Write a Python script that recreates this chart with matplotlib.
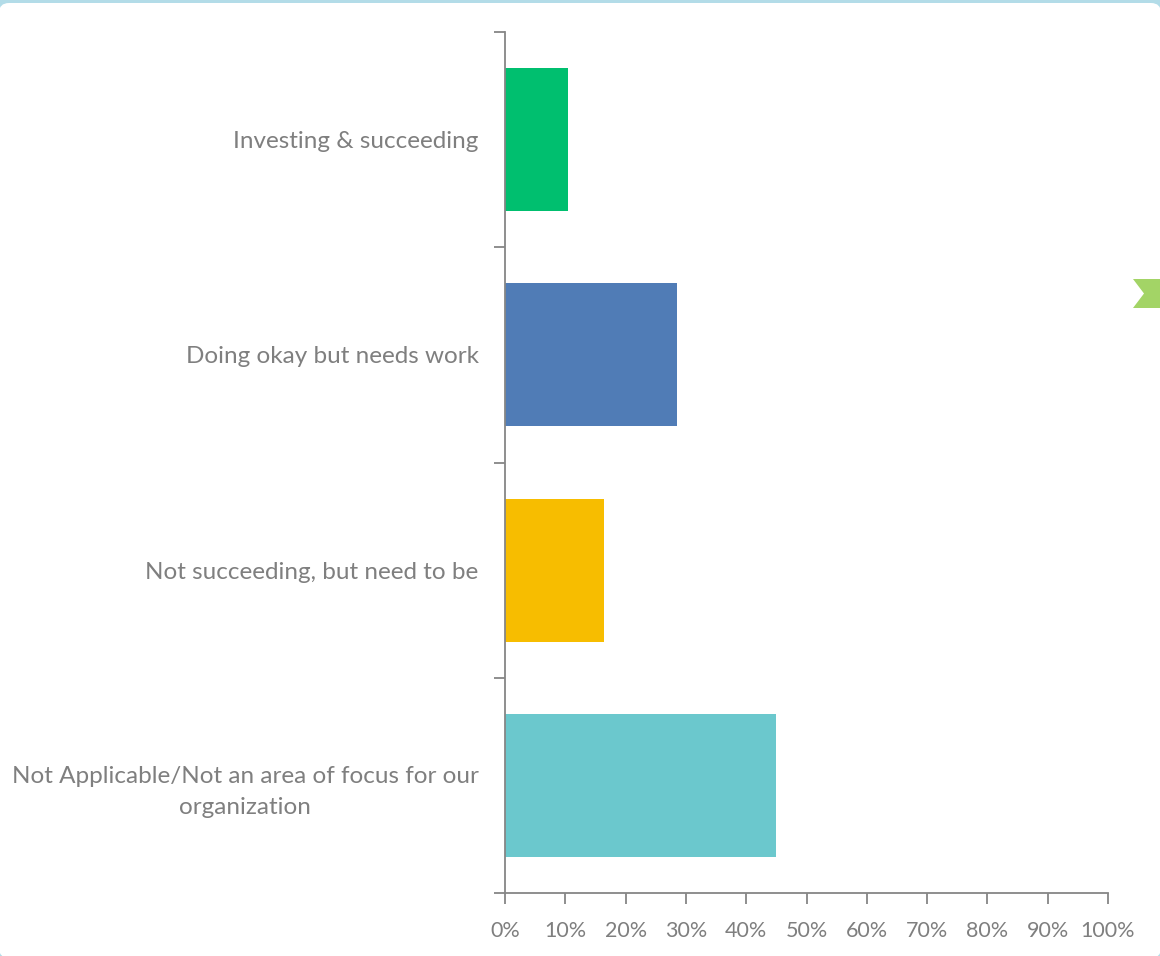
import matplotlib
matplotlib.use("Agg")
import matplotlib.pyplot as plt
from matplotlib.patches import FancyBboxPatch, Polygon
from matplotlib.transforms import IdentityTransform
from matplotlib.ticker import FixedLocator, FuncFormatter

categories = [
    "Investing & succeeding",
    "Doing okay but needs work",
    "Not succeeding, but need to be",
    "Not Applicable/Not an area of focus for our\norganization",
]
values = [10.4, 28.5, 16.4, 44.9]
colors = ["#00bf6f", "#507cb6", "#f7bd00", "#6bc8cd"]
xticks = [0, 10, 20, 30, 40, 50, 60, 70, 80, 90, 100]

W, H = 1160, 956
fig = plt.figure(figsize=(W / 100, H / 100), dpi=100)
fig.patch.set_facecolor("#b3dce8")

# white rounded panel (display pixel coords, origin bottom-left)
panel = FancyBboxPatch((-1, -2), W + 2, H - 3 + 2,
                       boxstyle="round,pad=0,rounding_size=10",
                       transform=IdentityTransform(), facecolor="white",
                       edgecolor="none", zorder=-2)
fig.patches.append(panel)

# green chevron at right
chev = [(1133, 279), (1160, 279), (1160, 308), (1133, 308), (1144, 293.5)]
fig.patches.append(Polygon([(x / W, 1 - y / H) for x, y in chev], closed=True,
                           transform=fig.transFigure, facecolor="#a3d466",
                           edgecolor="none", zorder=-1))

ax = fig.add_axes([505 / W, 1 - 893 / H, (1108 - 505) / W, (893 - 32) / H])
ax.set_zorder(1)
ax.set_facecolor("none")
ypos = list(range(len(categories)))
ax.barh(ypos, values, height=0.665, color=colors, zorder=2)
ax.set_ylim(len(categories) - 0.5, -0.5)
ax.set_xlim(0, 100)

gray = "#7f7f7f"
for s in ["top", "right"]:
    ax.spines[s].set_visible(False)
for s in ["left", "bottom"]:
    ax.spines[s].set_color("#868686")
    ax.spines[s].set_linewidth(1.3)

ax.set_xticks(xticks)
ax.xaxis.set_major_formatter(FuncFormatter(lambda v, p: f"{int(v)}%"))
ax.tick_params(axis="x", direction="out", length=8, width=1.3, color="#868686",
               labelsize=15.5, labelcolor=gray, pad=12)

ax.set_yticks(ypos)
ax.set_yticklabels(categories, multialignment="center", linespacing=1.55)
ax.yaxis.set_minor_locator(FixedLocator([i - 0.5 for i in range(len(categories) + 1)]))
ax.tick_params(axis="y", which="major", length=0, labelsize=17.5, labelcolor=gray, pad=19)
ax.tick_params(axis="y", which="minor", direction="out", length=8, width=1.3, color="#868686")

for lab in ax.get_xticklabels() + ax.get_yticklabels():
    lab.set_fontfamily(["Lato", "DejaVu Sans"])

fig.savefig("out.png", dpi=100, facecolor=fig.get_facecolor())
